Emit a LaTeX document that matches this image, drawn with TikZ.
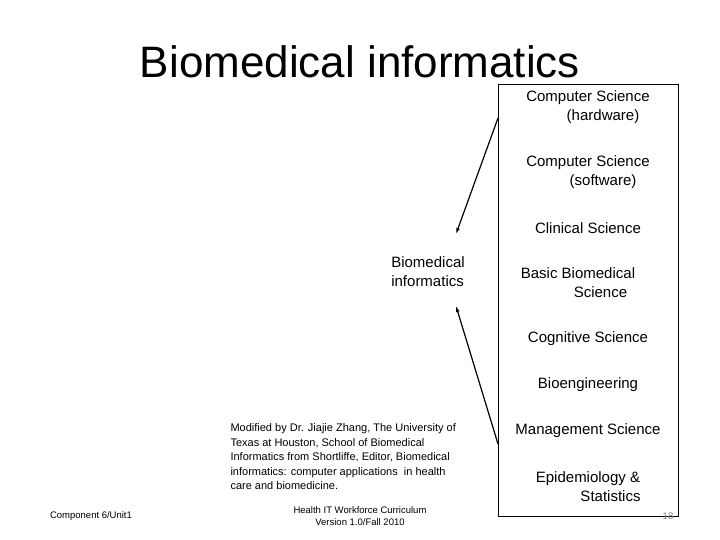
\documentclass[tikz,border=0pt]{standalone}
\usepackage{fontspec}
\setmainfont{Liberation Sans}
\begin{document}
\begin{tikzpicture}[x=1pt,y=-1pt,
 item/.style={align=center,font=\fontsize{15}{19}\selectfont},
 arr/.style={-{Latex[length=6pt,width=4pt]},line width=1.2pt}]
\usetikzlibrary{arrows.meta}
\useasboundingbox (0,0) rectangle (720,540);
\node (title) at (360,62) {\fontsize{44}{50}\selectfont Biomedical informatics};
\node[draw,line width=0.8pt,minimum width=180,minimum height=432,anchor=north west] (box) at (498,84) {};
\node[item] (a) at (588,107) {Computer Science\\\hspace*{2em}(hardware)};
\node[item] (b) at (588,172) {Computer Science\\\hspace*{2em}(software)};
\node[item] (c) at (588,228) {Clinical Science};
\node[item] (d) at (578,283) {Basic Biomedical\\\hspace*{3em}Science};
\node[item] (e) at (588,339) {Cognitive Science};
\node[item] (f) at (588,385) {Bioengineering};
\node[item] (g) at (588,431) {Management Science};
\node[item] (h) at (588,487) {Epidemiology \&\\\hspace*{3em}Statistics};
\node[item,align=left] (bi) at (428,272) {Biomedical\\informatics};
\coordinate (t1) at (498,118);
\coordinate (t2) at (498,444);
\draw[arr] (t1) -- (456,234);
\draw[arr] (t2) -- (456,306);
\node[align=left,font=\fontsize{11}{14.5}\selectfont,anchor=north west] (note) at (227,420) {Modified by Dr. Jiajie Zhang, The University of\\Texas at Houston, School of Biomedical\\Informatics from Shortliffe, Editor, Biomedical\\informatics: computer applications\ \ in health\\care and biomedicine.};
\node[font=\fontsize{9.5}{12}\selectfont] (f1) at (91,516) {Component 6/Unit1};
\node[align=center,font=\fontsize{9.5}{12}\selectfont] (f2) at (360,516) {Health IT Workforce Curriculum\\Version 1.0/Fall 2010};
\node[font=\fontsize{9.5}{12}\selectfont,text=gray] (f3) at (668,516) {18};
\end{tikzpicture}
\end{document}
